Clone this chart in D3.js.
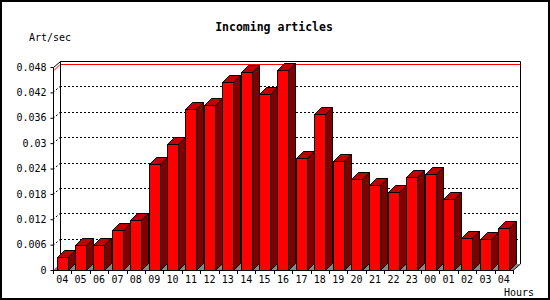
<!DOCTYPE html>
<html>
<head>
<meta charset="utf-8">
<script src="https://cdn.jsdelivr.net/npm/d3@7"></script>
<style>
  body { margin: 0; background: #fff; }
  text { font-family: "DejaVu Sans Mono", monospace; }
</style>
</head>
<body>
<svg id="chart" width="550" height="300"></svg>
<script>
// hours shown along the bottom (last 24h, wraps around)
const hours = ["04","05","06","07","08","09","10","11","12","13","14","15","16",
               "17","18","19","20","21","22","23","00","01","02","03","04"];
// articles per second for each hour
const artPerSec = [0.0030, 0.0059, 0.0059, 0.0095, 0.0118, 0.0250, 0.0297, 0.0380, 0.0389,
                   0.0444, 0.0468, 0.0417, 0.0472, 0.0264, 0.0370, 0.0257, 0.0214, 0.0200,
                   0.0184, 0.0219, 0.0228, 0.0167, 0.0076, 0.0074, 0.0100];
const yTicks = [0, 0.006, 0.012, 0.018, 0.024, 0.03, 0.036, 0.042, 0.048];
const yTickLabels = ["0", "0.006", "0.012", "0.018", "0.024", "0.03", "0.036", "0.042", "0.048"];

const svg = d3.select("#chart");
const dims = { left: 53, right: 513, bottom: 270, top: 67, dx: 7, dy: 6 };
const dx = dims.dx, dy = dims.dy;

const x = d3.scaleBand()
    .domain(d3.range(hours.length))
    .range([dims.left, dims.right]);
const y = d3.scaleLinear()
    .domain([0, 0.048])
    .range([dims.bottom, dims.top]);

// outer frame
svg.append("rect")
    .attr("x", 1).attr("y", 1).attr("width", 548).attr("height", 298)
    .attr("fill", "#fff").attr("stroke", "#000").attr("stroke-width", 2);

// title & axis names
svg.append("text")
    .attr("x", 274).attr("y", 31)
    .attr("text-anchor", "middle")
    .attr("font-size", "11.5px").attr("font-weight", "bold")
    .text("Incoming articles");
svg.append("text")
    .attr("x", 29).attr("y", 41)
    .attr("font-size", "10px")
    .text("Art/sec");
svg.append("text")
    .attr("x", 504).attr("y", 296)
    .attr("font-size", "10px")
    .text("Hours");

const backTop = Math.round(y(0.048)) - dy + 0.5;

// floor (grey strip seen between bars)
svg.append("path")
    .attr("d", `M${dims.left},${dims.bottom} L${dims.left + dx},${dims.bottom - dy} L${dims.right + dx},${dims.bottom - dy} L${dims.right},${dims.bottom} Z`)
    .attr("fill", "#888888");

// dotted gridlines on the back wall + little diagonals on the left wall
const grid = svg.append("g").attr("stroke", "#000").attr("stroke-dasharray", "2,2");
yTicks.filter(d => d > 0 && d < 0.048).forEach(d => {
    const yy = Math.round(y(d)) + 0.5;
    grid.append("line")
        .attr("x1", dims.left + dx).attr("x2", dims.right + dx)
        .attr("y1", yy - dy).attr("y2", yy - dy);
    grid.append("line")
        .attr("x1", dims.left).attr("x2", dims.left + dx)
        .attr("y1", yy).attr("y2", yy - dy);
});

// red line at the peak value
const maxY = Math.round(y(d3.max(artPerSec))) + 0.5;
svg.append("path")
    .attr("d", `M${dims.left + 1},${maxY} L${dims.left + dx},${maxY - dy} H${dims.right + dx}`)
    .attr("fill", "none").attr("stroke", "#ff0000");

// box edges
const box = svg.append("g").attr("fill", "none").attr("stroke", "#000");
box.append("path")
    .attr("d", `M${dims.left + dx + 0.5},${dims.bottom - dy} V${backTop} H${dims.right + dx + 0.5} V${dims.bottom - dy}`);
box.append("path")
    .attr("d", `M${dims.left + 0.5},${dims.bottom} V${backTop + dy} L${dims.left + dx + 0.5},${backTop}`);
box.append("path")
    .attr("d", `M${dims.right},${dims.bottom + 0.5} L${dims.right + dx + 0.5},${dims.bottom - dy}`);

// bars
const barW = 11, off = 3.5, bd = 7;
const bars = svg.append("g").attr("stroke", "#000").attr("stroke-linejoin", "miter");
artPerSec.forEach((v, i) => {
    const x0 = Math.round(x(i) + off) + 0.5, x1 = x0 + barW;
    const y0 = dims.bottom + 0.5, y1 = Math.round(y(v)) + 0.5;
    bars.append("path") // side
        .attr("d", `M${x1},${y0} L${x1 + bd},${y0 - bd} L${x1 + bd},${y1 - bd} L${x1},${y1} Z`)
        .attr("fill", "#800000");
    bars.append("path") // top
        .attr("d", `M${x0},${y1} L${x0 + bd},${y1 - bd} L${x1 + bd},${y1 - bd} L${x1},${y1} Z`)
        .attr("fill", "#c00000");
    bars.append("rect") // front
        .attr("x", x0).attr("y", y1)
        .attr("width", barW).attr("height", y0 - y1)
        .attr("fill", "#ff0000");
});

// y axis
const yAxis = d3.axisLeft(y)
    .tickValues(yTicks)
    .tickSize(3)
    .tickPadding(4)
    .tickFormat((d, i) => yTickLabels[i]);
const yG = svg.append("g")
    .attr("transform", `translate(${dims.left + 0.5},0)`)
    .call(yAxis);
yG.select(".domain").remove();
yG.selectAll("text").attr("font-size", "10px").attr("font-family", "DejaVu Sans Mono, monospace").attr("fill", "#000");
yG.selectAll("line").attr("stroke", "#000");

// x axis: labels centred on bands, ticks on band edges
const xAxis = d3.axisBottom(x)
    .tickSize(0)
    .tickPadding(6)
    .tickFormat(i => hours[i]);
const xG = svg.append("g")
    .attr("transform", `translate(0,${dims.bottom})`)
    .call(xAxis);
xG.select(".domain").remove();
xG.selectAll("text").attr("font-size", "10px").attr("font-family", "DejaVu Sans Mono, monospace").attr("fill", "#000");

svg.append("line")
    .attr("x1", dims.left).attr("x2", dims.right)
    .attr("y1", dims.bottom + 0.5).attr("y2", dims.bottom + 0.5)
    .attr("stroke", "#000");
svg.append("g").selectAll("line")
    .data(d3.range(hours.length + 1))
    .join("line")
    .attr("x1", i => Math.round(dims.left + i * x.step()) + 0.5)
    .attr("x2", i => Math.round(dims.left + i * x.step()) + 0.5)
    .attr("y1", dims.bottom).attr("y2", dims.bottom + 4)
    .attr("stroke", "#000");
</script>
</body>
</html>
